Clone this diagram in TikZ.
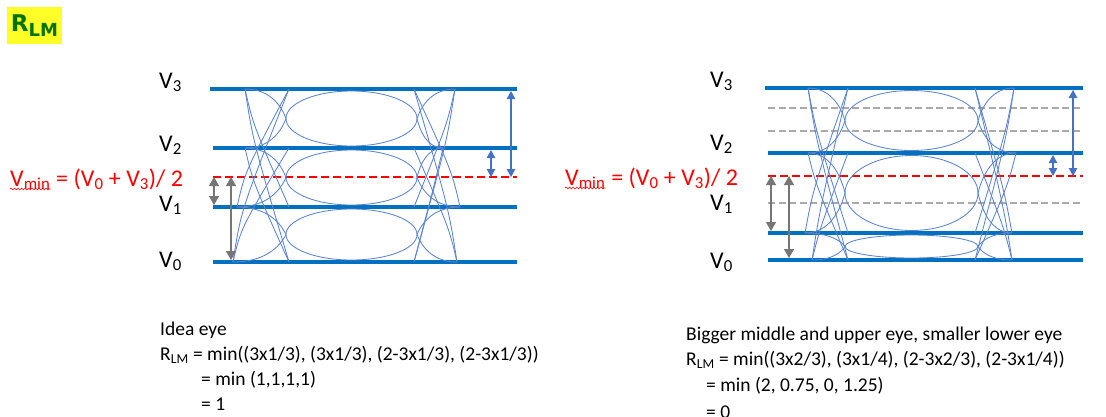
\documentclass[tikz,border=0pt]{standalone}
\usepackage{fontspec}
\setmainfont{Carlito}
\newfontfamily\titlefont{DejaVu Sans}
\usepackage{tikz}
\usetikzlibrary{positioning,arrows.meta,decorations.pathmorphing}
\definecolor{lvlblue}{RGB}{0,112,192}
\definecolor{eyeblue}{RGB}{92,132,208}
\definecolor{arrblue}{RGB}{68,114,196}
\definecolor{arrgray}{RGB}{118,118,118}
\definecolor{refgray}{RGB}{170,170,170}
\definecolor{rlmgreen}{RGB}{0,115,0}
\definecolor{rlmyellow}{RGB}{255,255,40}
\newcommand{\lo}[1]{\textsubscript{#1}}

\begin{document}
\begin{tikzpicture}[
  x=1pt, y=-1pt,
  lvlline/.style={line width=3.6pt, lvlblue},
  vminline/.style={line width=2.2pt, red, dash pattern=on 8pt off 4pt},
  refline/.style={line width=1.8pt, refgray, dash pattern=on 7pt off 3.5pt},
  eye/.style={line width=0.85pt, eyeblue},
  arrb/.style={{Triangle[length=8pt,width=8.5pt]}-{Triangle[length=8pt,width=8.5pt]}, line width=1.1pt, arrblue},
  arrg/.style={{Triangle[length=9pt,width=10pt]}-{Triangle[length=9pt,width=10pt]}, line width=1.4pt, arrgray},
  vlabel/.style={anchor=base west, inner sep=0pt, font=\fontsize{24}{28}\selectfont},
  vmintxt/.style={anchor=base west, inner sep=0pt, text=red, font=\fontsize{24}{28}\selectfont},
  squig/.style={red, line width=0.6pt, decorate, decoration={snake, amplitude=0.9pt, segment length=3.5pt}},
  eqtxt/.style={anchor=base west, inner sep=0pt, font=\fontsize{19.5}{24}\selectfont}
]
  \path[use as bounding box, fill=white] (0,0) rectangle (1106,416);

  % --- Title ---
  \node[fill=rlmyellow, minimum width=55, minimum height=37, inner sep=0pt,
        text=rlmgreen, font=\titlefont\bfseries] (rlm) at (34.5,25.5)
    {\fontsize{23}{23}\selectfont R\raisebox{-5pt}{\fontsize{18}{18}\selectfont LM}};

  % --- Left eye: levels ---
  \draw[lvlline]  (210,89)  -- (517,89);
  \draw[lvlline]  (213,148) -- (517,148);
  \draw[lvlline]  (213,207) -- (517,207);
  \draw[lvlline]  (213,262) -- (517,262);
  \draw[vminline] (213,177) -- (517,177);

  % --- Left eye: openings and transitions ---
  \draw[eye] (351.5,118.5) ellipse [x radius=65.5, y radius=27.5];
  \draw[eye] (351.5,177.5) ellipse [x radius=65.5, y radius=27.5];
  \draw[eye] (351.5,234.5) ellipse [x radius=65.5, y radius=25.5];
  \foreach \xa/\ya/\yv in {245/89/118.5, 245/148/118.5, 245/148/177.5,
                           237/207/177.5, 237/207/234.5, 233/262/234.5}
    \draw[eye] (\xa,\ya) .. controls ({\xa+0.6*(286-\xa)},\ya)
      and ({286-0.12*(286-\xa)},{\ya+0.55*(\yv-\ya)}) .. (286,\yv);
  \foreach \xa/\ya/\yb in {245/89/207, 245/89/262, 245/148/262,
                           237/207/89, 233/262/89, 233/262/148}
    \draw[eye] (\xa,\ya) .. controls ({\xa+8},{\ya+0.3*(\yb-\ya)}) .. (289,\yb);
  \foreach \xb/\ya/\yv in {455/89/118.5, 443/148/118.5, 443/148/177.5,
                           460/207/177.5, 460/207/234.5, 457/262/234.5}
    \draw[eye] (\xb,\ya) .. controls ({\xb-0.6*(\xb-417)},\ya)
      and ({417+0.12*(\xb-417)},{\ya+0.55*(\yv-\ya)}) .. (417,\yv);
  \foreach \xb/\ya/\yb in {455/89/207, 455/89/262, 443/148/262,
                           460/207/89, 457/262/89, 457/262/148}
    \draw[eye] (\xb,\ya) .. controls ({\xb-8},{\ya+0.3*(\yb-\ya)}) .. (414,\yb);

  % --- Left eye: labels ---
  \node[vlabel] (lv3) at (159,88)  {V\lo{3}};
  \node[vlabel] (lv2) at (159,151) {V\lo{2}};
  \node[vlabel] (lv1) at (159,211) {V\lo{1}};
  \node[vlabel] (lv0) at (159,267) {V\lo{0}};
  \node[vmintxt] (lvmin) at (10,186) {V\lo{min}};
  \node[vmintxt] (lvexp) at (lvmin.base east) {\ = (V\lo{0} + V\lo{3})/ 2};
  \draw[squig] ([yshift=-3pt]lvmin.base west) -- ([yshift=-3pt]lvmin.base east);

  % --- Left eye: swings ---
  \coordinate (lbs1) at (491,150); \coordinate (lbs2) at (491,177);
  \coordinate (lbl1) at (511,91);  \coordinate (lbl2) at (511,177);
  \coordinate (lgs1) at (214,177); \coordinate (lgs2) at (214,205);
  \coordinate (lgl1) at (231,177); \coordinate (lgl2) at (231,260);
  \draw[arrb] (lbs1) -- (lbs2);
  \draw[arrb] (lbl1) -- (lbl2);
  \draw[arrg] (lgs1) -- (lgs2);
  \draw[arrg] (lgl1) -- (lgl2);

  % --- Left eye: ratio ---
  \node[eqtxt] (idea) at (160,335) {Idea eye};
  \node[eqtxt] (rlml) at (160,360) {R\lo{LM} = min((3x1/3), (3x1/3), (2-3x1/3), (2-3x1/3))};
  \node[eqtxt] (minl) at (201,385) {= min (1,1,1,1)};
  \node[eqtxt] (resl) at (201,410) {= 1};

  % --- Right eye: levels ---
  \draw[refline]  (768,108) -- (1080,108);
  \draw[refline]  (768,131) -- (1080,131);
  \draw[refline]  (768,203) -- (1080,203);
  \draw[lvlline]  (765,88)  -- (1083,88);
  \draw[lvlline]  (768,153) -- (1083,153);
  \draw[lvlline]  (768,233) -- (1083,233);
  \draw[lvlline]  (768,260) -- (1083,260);
  \draw[vminline] (768,176) -- (1083,176);

  % --- Right eye: openings and transitions ---
  \draw[eye] (911.5,120.5) ellipse [x radius=66.5, y radius=30];
  \draw[eye] (911.5,193)   ellipse [x radius=66.5, y radius=37.5];
  \draw[eye] (911.5,246.5) ellipse [x radius=66.5, y radius=11.5];
  \foreach \xa/\ya/\yv in {808/88/120.5, 808/153/120.5, 808/153/193,
                           805/233/193, 805/233/246.5, 812/260/246.5}
    \draw[eye] (\xa,\ya) .. controls ({\xa+0.6*(845-\xa)},\ya)
      and ({845-0.12*(845-\xa)},{\ya+0.55*(\yv-\ya)}) .. (845,\yv);
  \foreach \xa/\ya/\yb in {808/88/233, 808/88/260, 808/153/260,
                           805/233/88, 812/260/88, 812/260/153}
    \draw[eye] (\xa,\ya) .. controls ({\xa+8},{\ya+0.3*(\yb-\ya)}) .. (848,\yb);
  \foreach \xb/\ya/\yv in {1014/88/120.5, 1016/153/120.5, 1016/153/193,
                           1012/233/193, 1012/233/246.5, 1012/260/246.5}
    \draw[eye] (\xb,\ya) .. controls ({\xb-0.6*(\xb-978)},\ya)
      and ({978+0.12*(\xb-978)},{\ya+0.55*(\yv-\ya)}) .. (978,\yv);
  \foreach \xb/\ya/\yb in {1014/88/233, 1014/88/260, 1016/153/260,
                           1012/233/88, 1012/260/88, 1012/260/153}
    \draw[eye] (\xb,\ya) .. controls ({\xb-8},{\ya+0.3*(\yb-\ya)}) .. (975,\yb);

  % --- Right eye: labels ---
  \node[vlabel] (rv3) at (710,87)  {V\lo{3}};
  \node[vlabel] (rv2) at (710,150) {V\lo{2}};
  \node[vlabel] (rv1) at (710,210) {V\lo{1}};
  \node[vlabel] (rv0) at (710,268) {V\lo{0}};
  \node[vmintxt] (rvmin) at (565,185) {V\lo{min}};
  \node[vmintxt] (rvexp) at (rvmin.base east) {\ = (V\lo{0} + V\lo{3})/ 2};
  \draw[squig] ([yshift=-3pt]rvmin.base west) -- ([yshift=-3pt]rvmin.base east);

  % --- Right eye: swings ---
  \coordinate (rbs1) at (1053,155); \coordinate (rbs2) at (1053,176);
  \coordinate (rbl1) at (1073,90);  \coordinate (rbl2) at (1073,176);
  \coordinate (rgs1) at (771,176);  \coordinate (rgs2) at (771,231);
  \coordinate (rgl1) at (789,176);  \coordinate (rgl2) at (789,258);
  \draw[arrb] (rbs1) -- (rbs2);
  \draw[arrb] (rbl1) -- (rbl2);
  \draw[arrg] (rgs1) -- (rgs2);
  \draw[arrg] (rgl1) -- (rgl2);

  % --- Right eye: ratio ---
  \node[eqtxt] (bigger) at (686,340) {Bigger middle and upper eye, smaller lower eye};
  \node[eqtxt] (rlmr) at (686,365) {R\lo{LM} = min((3x2/3), (3x1/4), (2-3x2/3), (2-3x1/4))};
  \node[eqtxt] (minr) at (706,391) {= min (2, 0.75, 0, 1.25)};
  \node[eqtxt] (resr) at (706,418) {= 0};
\end{tikzpicture}
\end{document}
